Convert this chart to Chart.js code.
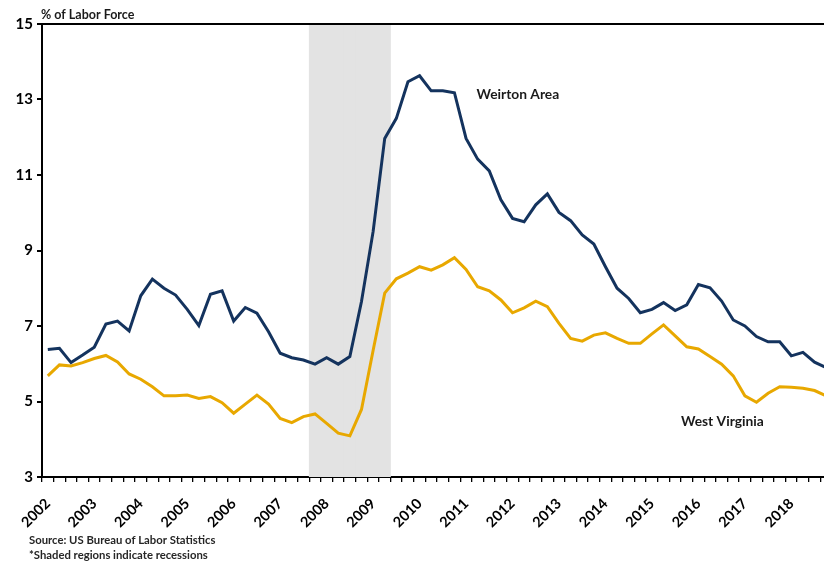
<!DOCTYPE html>
<html>
<head>
<meta charset="utf-8">
<script src="https://cdn.jsdelivr.net/npm/chart.js@4.4.1/dist/chart.umd.min.js"></script>
<style>
  html, body { margin: 0; padding: 0; background: #fff; overflow: hidden; }
  /* the plot runs a few pixels past the right edge, like the original */
  #wrap { width: 824px; height: 563px; position: relative; overflow: hidden; }
</style>
</head>
<body>
<div id="wrap"><canvas id="UnempChart" width="832" height="563"></canvas></div>
<script>
// ================= Data =================
const years = [2002, 2003, 2004, 2005, 2006, 2007, 2008, 2009, 2010,
               2011, 2012, 2013, 2014, 2015, 2016, 2017, 2018];
const quarters = years.flatMap(y => ['Q1', 'Q2', 'Q3', 'Q4'].map(q => `${y} ${q}`));

// unemployment rate, % of labor force, quarterly
const weirton = [
  6.38, 6.41, 6.03, 6.23, 6.44, 7.05, 7.13, 6.87,
  7.80, 8.24, 8.00, 7.82, 7.44, 7.01, 7.84, 7.93,
  7.13, 7.49, 7.34, 6.85, 6.28, 6.16, 6.10, 5.99,
  6.16, 5.99, 6.19, 7.65, 9.50, 11.97, 12.50, 13.47,
  13.63, 13.23, 13.23, 13.18, 11.97, 11.42, 11.11, 10.34,
  9.85, 9.76, 10.21, 10.50, 10.01, 9.79, 9.41, 9.17,
  8.57, 8.00, 7.73, 7.35, 7.44, 7.62, 7.41, 7.56,
  8.10, 8.01, 7.66, 7.16, 7.00, 6.72, 6.58, 6.58,
  6.21, 6.30, 6.04, 5.90
];
const westVirginia = [
  5.68, 5.97, 5.94, 6.03, 6.14, 6.22, 6.05, 5.73,
  5.59, 5.39, 5.15, 5.15, 5.17, 5.08, 5.13, 4.97,
  4.69, 4.93, 5.17, 4.93, 4.55, 4.44, 4.60, 4.67,
  4.42, 4.16, 4.09, 4.79, 6.35, 7.87, 8.25, 8.40,
  8.57, 8.48, 8.62, 8.81, 8.50, 8.04, 7.93, 7.69,
  7.35, 7.48, 7.66, 7.51, 7.07, 6.67, 6.60, 6.76,
  6.82, 6.67, 6.54, 6.54, 6.79, 7.03, 6.74, 6.45,
  6.39, 6.19, 5.99, 5.68, 5.15, 4.98, 5.22, 5.39,
  5.38, 5.35, 5.29, 5.15
];
// recession shading: 2007 Q4 - 2009 Q2
const recession = quarters.map((q, i) => (i >= 23 && i <= 29 ? 15 : null));

const yTicks = [3, 5, 7, 9, 11, 13, 15];

const NAVY = '#14335e';
const GOLD = '#e8a800';
const FONT = 'Lato, "Open Sans", sans-serif';

// ================= Annotations plugin =================
const annotate = {
  id: 'annotate',
  afterDraw(chart) {
    const { ctx, chartArea, scales } = chart;
    ctx.save();
    // top frame line
    ctx.strokeStyle = '#000';
    ctx.lineWidth = 2;
    ctx.beginPath();
    ctx.moveTo(chartArea.left, chartArea.top);
    ctx.lineTo(chartArea.right, chartArea.top);
    ctx.stroke();

    ctx.fillStyle = '#1a1a1a';
    ctx.textBaseline = 'alphabetic';
    ctx.textAlign = 'left';

    ctx.font = `bold 12.5px ${FONT}`;
    ctx.fillText('% of Labor Force', 41, 19);

    ctx.font = `bold 13.8px ${FONT}`;
    ctx.fillText('Weirton Area', scales.x.getPixelForValue(36.9), scales.y.getPixelForValue(13.02));
    ctx.fillText('West Virginia', scales.x.getPixelForValue(54.5), scales.y.getPixelForValue(4.35));

    ctx.fillStyle = '#262626';
    ctx.font = `bold 11.3px ${FONT}`;
    ctx.fillText('Source: US Bureau of Labor Statistics', 29, 544);
    ctx.fillText('*Shaded regions indicate recessions', 29, 559);
    ctx.restore();
  }
};

// ================= Chart.js =================
const ctx = document.getElementById('UnempChart').getContext('2d');

new Chart(ctx, {
  type: 'line',
  data: {
    labels: quarters,
    datasets: [
      {
        label: 'Weirton Area',
        data: weirton,
        borderColor: NAVY,
        borderWidth: 3,
        pointRadius: 0,
        tension: 0,
        fill: false,
        order: 1
      },
      {
        label: 'West Virginia',
        data: westVirginia,
        borderColor: GOLD,
        borderWidth: 3,
        pointRadius: 0,
        tension: 0,
        fill: false,
        order: 2
      },
      {
        type: 'bar',
        label: 'Recession',
        data: recession,
        backgroundColor: '#e3e3e3',
        borderWidth: 0,
        barPercentage: 1,
        categoryPercentage: 1,
        order: 3
      }
    ]
  },
  options: {
    responsive: false,
    animation: false,
    devicePixelRatio: 1,
    layout: { padding: { top: 24, left: 0, right: 0, bottom: 0 } },
    plugins: {
      legend: { display: false },
      tooltip: { enabled: false }
    },
    scales: {
      x: {
        type: 'category',
        offset: true,
        border: { display: true, color: '#000', width: 2 },
        grid: {
          offset: true,
          drawOnChartArea: false,
          drawTicks: true,
          tickLength: 5,
          color: '#000',
          lineWidth: 1.3
        },
        ticks: {
          autoSkip: false,
          maxRotation: 45,
          minRotation: 45,
          padding: 13,
          color: '#000',
          font: { family: FONT, size: 14.5, weight: 'bold' },
          callback: function(value, index) {
            return index % 4 === 0 ? this.getLabelForValue(value).slice(0, 4) : '';
          }
        },
        afterFit: (scale) => {
          scale.height = 86;
          scale.paddingLeft = 0;
          scale.paddingRight = 0;
        }
      },
      y: {
        min: 3,
        max: 15,
        border: { display: true, color: '#000', width: 2 },
        grid: {
          drawOnChartArea: false,
          drawTicks: true,
          tickLength: 5,
          color: '#000',
          lineWidth: 2
        },
        afterBuildTicks: (scale) => { scale.ticks = yTicks.map(v => ({ value: v })); },
        ticks: {
          padding: 4,
          color: '#000',
          font: { family: FONT, size: 15, weight: 'bold' }
        },
        afterFit: (scale) => { scale.width = 42; }
      }
    }
  },
  plugins: [annotate]
});
</script>
</body>
</html>
